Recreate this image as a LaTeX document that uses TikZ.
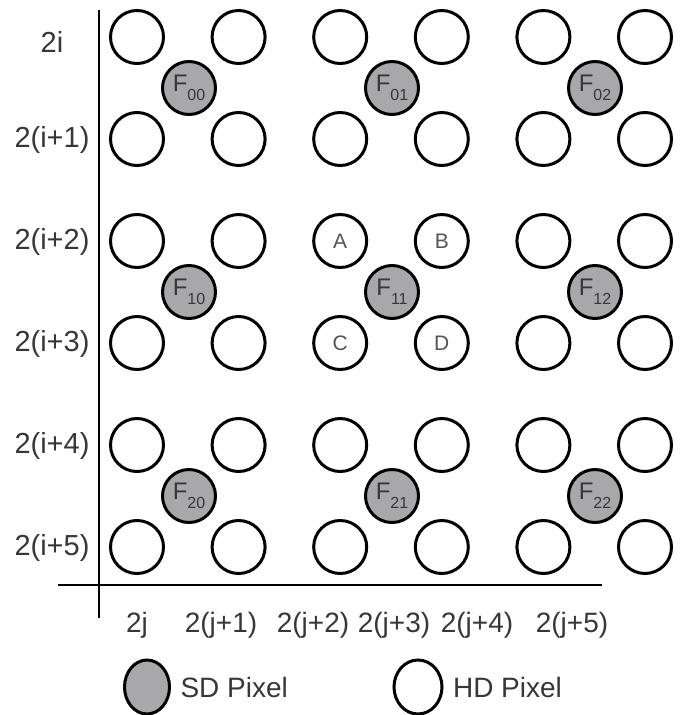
\documentclass[tikz,border=0pt]{standalone}
\usepackage{fontspec}
\setmainfont{Liberation Sans}
\usetikzlibrary{shapes.geometric, positioning}

\definecolor{sdgray}{RGB}{168,168,170}
\definecolor{labelgray}{RGB}{55,55,55}
\definecolor{lettergray}{RGB}{85,85,85}
\newcommand{\fsub}[1]{\raisebox{-9pt}{\fontsize{16}{16}\selectfont #1}}

\begin{document}
\begin{tikzpicture}[
    x=1pt, y=-1pt,
    hdpixel/.style={circle, draw=black, line width=3pt, fill=white, minimum size=53pt, inner sep=0pt},
    sdpixel/.style={circle, draw=black, line width=3pt, fill=sdgray, minimum size=53pt, inner sep=0pt, text=labelgray, font=\fontsize{24}{24}\selectfont},
    letter/.style={text=lettergray, font=\fontsize{21}{21}\selectfont},
    axislabel/.style={text=labelgray, font=\fontsize{28}{30}\selectfont},
    axis/.style={line width=2.4pt},
    node distance=6pt
]
\useasboundingbox (0,0) rectangle (699,715);

% HD pixel grid
\foreach \r in {0,...,5}
  \foreach \c in {0,...,5}
    \node[hdpixel] (h-\r-\c) at ({137+101.6*\c},{37+102*\r}) {};

% SD pixels
\node[sdpixel] (f-0-0) at (189,88) {F\fsub{00}};
\node[sdpixel] (f-0-1) at (392,88) {F\fsub{01}};
\node[sdpixel] (f-0-2) at (595,88) {F\fsub{02}};
\node[sdpixel] (f-1-0) at (189,292) {F\fsub{10}};
\node[sdpixel] (f-1-1) at (392,292) {F\fsub{11}};
\node[sdpixel] (f-1-2) at (595,292) {F\fsub{12}};
\node[sdpixel] (f-2-0) at (189,496) {F\fsub{20}};
\node[sdpixel] (f-2-1) at (392,496) {F\fsub{21}};
\node[sdpixel] (f-2-2) at (595,496) {F\fsub{22}};

% neighbours of F11
\node[letter] at (h-2-2) {A};
\node[letter] at (h-2-3) {B};
\node[letter] at (h-3-2) {C};
\node[letter] at (h-3-3) {D};

% axes
\coordinate (ytop) at (99,10);
\coordinate (ybot) at (99,618);
\coordinate (xleft) at (58,585);
\coordinate (xright) at (602,585);
\draw[axis] (ytop) -- (ybot);
\draw[axis] (xleft) -- (xright);

% row labels
\node[axislabel, font=\fontsize{29}{30}\selectfont] (row0) at (52,42) {2i};
\node[axislabel, font=\fontsize{29}{30}\selectfont] (row1) at (52,140) {2(i+1)};
\node[axislabel, font=\fontsize{29}{30}\selectfont] (row2) at (52,242) {2(i+2)};
\node[axislabel, font=\fontsize{29}{30}\selectfont] (row3) at (52,344) {2(i+3)};
\node[axislabel, font=\fontsize{29}{30}\selectfont] (row4) at (52,446) {2(i+4)};
\node[axislabel, font=\fontsize{29}{30}\selectfont] (row5) at (52,548) {2(i+5)};

% column labels
\node[axislabel] (col0) at (137,625) {2j};
\node[axislabel] (col1) at (221,625) {2(j+1)};
\node[axislabel] (col2) at (313,625) {2(j+2)};
\node[axislabel] (col3) at (394,625) {2(j+3)};
\node[axislabel] (col4) at (477,625) {2(j+4)};
\node[axislabel] (col5) at (572,625) {2(j+5)};

% legend
\node[ellipse, draw=black, line width=3pt, fill=sdgray, minimum width=45pt, minimum height=54pt, inner sep=0pt] (sdkey) at (147,687) {};
\node[axislabel, right=of sdkey] (sdtext) {SD Pixel};
\node[ellipse, draw=black, line width=3pt, fill=white, minimum width=48pt, minimum height=54pt, inner sep=0pt] (hdkey) at (418,687) {};
\node[axislabel, right=of hdkey] (hdtext) {HD Pixel};

\end{tikzpicture}
\end{document}
